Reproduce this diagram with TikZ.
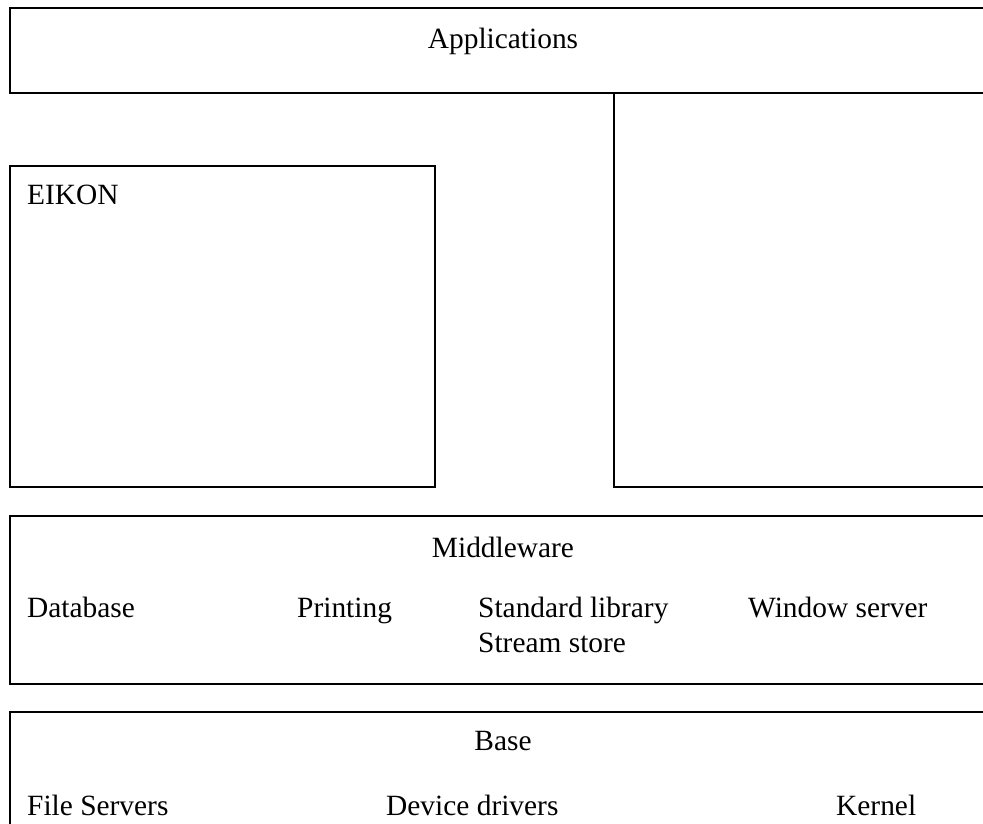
\documentclass[tikz,border=0pt]{standalone}
\usepackage{fontspec}
\setmainfont{Liberation Serif}
\begin{document}
\begin{tikzpicture}[x=1pt,y=-1pt,
  frame/.style={line width=1.6pt},
  lbl/.style={inner sep=0pt,font=\fontsize{29.4}{34}\selectfont},
  lw/.style={lbl,anchor=base west},
  lc/.style={lbl,anchor=base}]
\useasboundingbox (0,0) rectangle (983,823);
% layer frames (open on the right and below)
\draw[frame] (995,8) -- (10,8) -- (10,93) -- (995,93);
\draw[frame] (10,166) rectangle (435,487);
\draw[frame] (614,93) -- (614,487) -- (995,487);
\draw[frame] (995,516) -- (10,516) -- (10,684) -- (995,684);
\draw[frame] (995,712) -- (10,712) -- (10,830);
% labels
\node[lc] (apps) at (503,48) {Applications};
\node[lw] (eikon) at (27,204) {EIKON};
\node[lc] (mid) at (503,557) {Middleware};
\node[lw] (db) at (27,617) {Database};
\node[lw] (print) at (297,617) {Printing};
\node[lw] (stdlib) at (478,617) {Standard library};
\node[lw] (stream) at (478,652) {Stream store};
\node[lw] (win) at (748,617) {Window server};
\node[lc] (base) at (503,750) {Base};
\node[lw] (fs) at (27,815) {File Servers};
\node[lw] (dev) at (386,815) {Device drivers};
\node[lw] (kern) at (836,815) {Kernel};
\end{tikzpicture}
\end{document}
